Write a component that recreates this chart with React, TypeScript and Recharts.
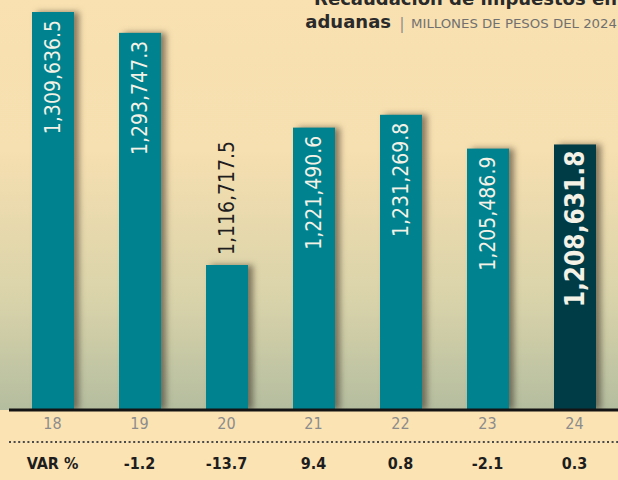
import React from 'react';
import { BarChart, Bar, XAxis, YAxis, Cell, LabelList } from 'recharts';

const years = ['18', '19', '20', '21', '22', '23', '24'];
const values = [1309636.5, 1293747.3, 1116717.5, 1221490.6, 1231269.8, 1205486.9, 1208631.8];
const varLabels = ['VAR %', '-1.2', '-13.7', '9.4', '0.8', '-2.1', '0.3'];
const barColors = ['#00828f', '#00828f', '#00828f', '#00828f', '#00828f', '#00828f', '#003c46'];

const titleTop = 'Recaudación de impuestos en';
const titleBold = 'aduanas';
const subtitle = 'MILLONES DE PESOS DEL 2024';

const data = years.map((y, i) => ({ year: y, value: values[i], varLabel: varLabels[i] }));

const fmt = (v: number) =>
  v.toLocaleString('en-US', { minimumFractionDigits: 1, maximumFractionDigits: 1 });

const NARROW = '"Liberation Sans Narrow", "DejaVu Sans Condensed", sans-serif';
const COND = '"DejaVu Sans Condensed", "DejaVu Sans", sans-serif';

const BarShape = (props: any) => {
  const { x, y, width, height, index } = props;
  return (
    <rect
      x={x}
      y={y}
      width={width}
      height={height}
      fill={barColors[index]}
      style={{ filter: 'drop-shadow(5px 0px 3px rgba(50,40,30,0.55))' }}
    />
  );
};

const renderLabel = (props: any) => {
  const { x, y, width, height, index } = props;
  const cx = Number(x) + Number(width) / 2;
  const top = Number(y);
  const text = fmt(values[index]);
  const isLast = index === values.length - 1;
  if (Number(height) < 170) {
    const ly = top - 10;
    return (
      <text
        x={cx}
        y={ly}
        transform={`rotate(-90 ${cx} ${ly})`}
        textAnchor="start"
        dominantBaseline="central"
        fill="#1e1e1e"
        fontSize={21}
        fontFamily={COND}
      >
        {text}
      </text>
    );
  }
  const ly = top + (isLast ? 6 : 8);
  return (
    <text
      x={cx}
      y={ly}
      transform={`rotate(-90 ${cx} ${ly})`}
      textAnchor="end"
      dominantBaseline="central"
      fill="#f4f1e6"
      fontSize={isLast ? 26 : 21}
      fontWeight={isLast ? 'bold' : 'normal'}
      fontFamily={COND}
    >
      {text}
    </text>
  );
};

export default function App() {
  return (
    <div
      style={{
        position: 'absolute',
        left: 0,
        top: 0,
        width: 618,
        height: 480,
        overflow: 'hidden',
        background:
          'linear-gradient(to bottom, #f9e1b1 0px, #f6dfb0 150px, #d9d3aa 300px, #b4bd9f 410px, #fbe3b3 410px, #fbe3b3 480px)',
      }}
    >
      <BarChart
        width={618}
        height={480}
        data={data}
        margin={{ top: 0, right: 0, left: 9, bottom: 0 }}
        barCategoryGap={0}
      >
        <YAxis hide domain={[1006150, 1318800]} allowDataOverflow />
        <XAxis
          dataKey="year"
          height={32}
          tickLine={false}
          axisLine={{ stroke: '#141414', strokeWidth: 3 }}
          tick={{ fill: '#8c8c8c', fontSize: 16, fontFamily: NARROW }}
        />
        <XAxis
          xAxisId="var"
          dataKey="varLabel"
          height={38}
          tickLine={false}
          tickMargin={10}
          axisLine={{ stroke: '#4a4a4a', strokeWidth: 2, strokeDasharray: '2 2.6' }}
          tick={{ fill: '#1d1d1d', fontSize: 16, fontWeight: 'bold', fontFamily: NARROW }}
        />
        <Bar dataKey="value" barSize={42} isAnimationActive={false} shape={BarShape}>
          {data.map((d, i) => (
            <Cell key={d.year} fill={barColors[i]} />
          ))}
          <LabelList dataKey="value" content={renderLabel} />
        </Bar>
      </BarChart>
      <svg
        width={618}
        height={40}
        style={{ position: 'absolute', left: 0, top: 0, pointerEvents: 'none' }}
      >
        <text
          x={617}
          y={5}
          textAnchor="end"
          fontFamily='"DejaVu Sans", sans-serif'
          fontWeight="bold"
          fontSize={18}
          fill="#2a2a2a"
        >
          {titleTop}
        </text>
        <text
          x={391}
          y={28}
          textAnchor="end"
          fontFamily='"DejaVu Sans", sans-serif'
          fontWeight="bold"
          fontSize={18}
          fill="#2a2a2a"
        >
          {titleBold}
        </text>
        <text x={402} y={29} textAnchor="middle" fontFamily={COND} fontSize={16} fill="#8a8a8a">
          |
        </text>
        <text
          x={617}
          y={28}
          textAnchor="end"
          fontFamily={COND}
          fontSize={13}
          fill="#707070"
          textLength={206}
          lengthAdjust="spacingAndGlyphs"
        >
          {subtitle}
        </text>
      </svg>
    </div>
  );
}
